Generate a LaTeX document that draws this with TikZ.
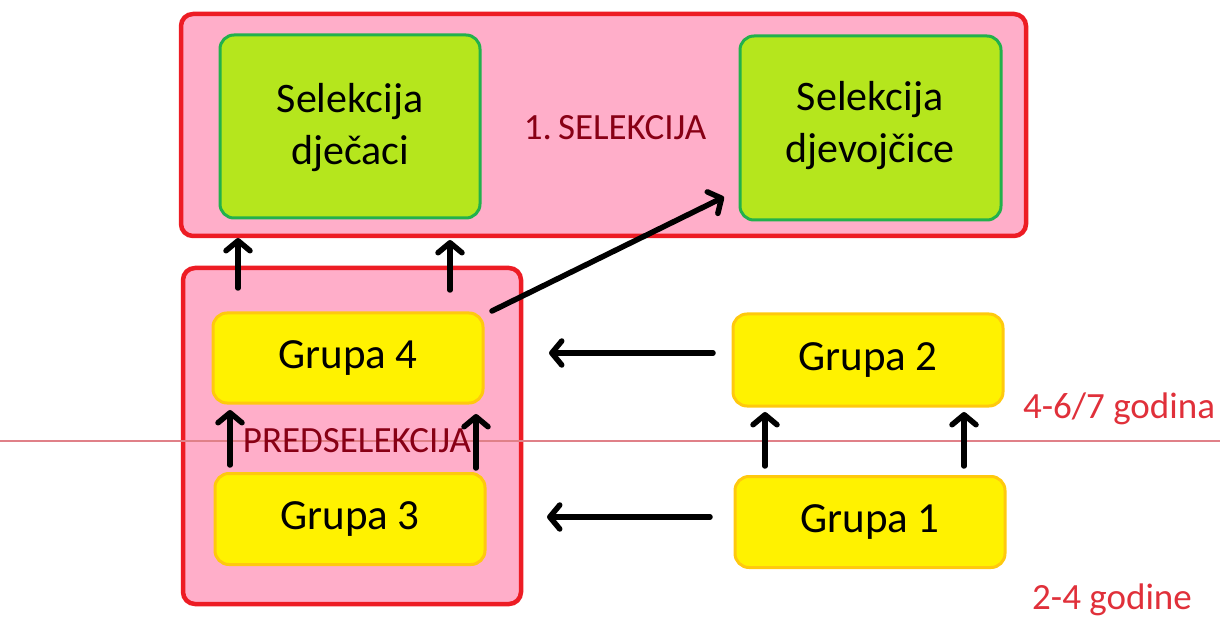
\documentclass[tikz,border=0pt]{standalone}
\usepackage{fontspec}
\setmainfont{Carlito}
\usetikzlibrary{arrows.meta}
\definecolor{pinkfill}{HTML}{FFAEC9}
\definecolor{redline}{HTML}{ED1C24}
\definecolor{greenfill}{HTML}{B5E61D}
\definecolor{greenline}{HTML}{22B14C}
\definecolor{yellowfill}{HTML}{FFF200}
\definecolor{goldline}{HTML}{FFC90E}
\definecolor{darkred}{HTML}{880015}
\definecolor{labelred}{HTML}{E0303A}
\definecolor{sepline}{HTML}{E08088}
\tikzset{
  x=1pt,y=-1pt,
  outerbox/.style={draw=redline,line width=4.5pt,fill=pinkfill,rounded corners=12pt},
  selbox/.style={draw=greenline,line width=3pt,fill=greenfill,rounded corners=14pt},
  seltext/.style={align=center,font=\fontsize{42}{52}\selectfont},
  grpbox/.style={draw=goldline,line width=3pt,fill=yellowfill,rounded corners=14pt,font=\fontsize{43}{50}\selectfont},
  redlabel/.style={font=\fontsize{37}{44}\selectfont},
  arr/.style={line width=5.5pt,-{Straight Barb[length=10pt,width=24pt,line cap=round,line join=round]},line cap=round},
}
\begin{document}
\frenchspacing
\begin{tikzpicture}
\useasboundingbox (0,0) rectangle (1220,617);
% outer boxes
\path[outerbox] (181,14) rectangle (1026,236);
\path[outerbox] (183,268) rectangle (521,604);
% inner nodes
\path[selbox] (220,35) rectangle (480,218);
\node[seltext] (dj) at (350,128) {Selekcija\\dječaci};
\path[selbox] (740,36) rectangle (1001,220);
\node[seltext] (dv) at (870,126) {Selekcija\\djevojčice};
\node[grpbox,minimum width=270pt,minimum height=90pt] (g4) at (348,358) {Grupa 4};
\node[grpbox,minimum width=270pt,minimum height=91pt] (g3) at (350,519) {Grupa 3};
\node[grpbox,minimum width=270pt,minimum height=92pt] (g2) at (868,360) {Grupa 2};
\node[grpbox,minimum width=270pt,minimum height=91pt] (g1) at (870,522) {Grupa 1};
% separator line
\draw[draw=sepline,line width=1.2pt] (0,441) -- (1220,441);
% labels
\node[redlabel,text=darkred] (sel) at (615,128) {1.\,SELEKCIJA};
\node[redlabel,text=darkred] (pre) at (357,441) {PREDSELEKCIJA};
\node[redlabel,text=labelred] (l1) at (1119,409) {4-6/7 godina};
\node[redlabel,text=labelred] (l2) at (1112,600) {2-4 godine};
% coordinates for arrows
\coordinate (a1s) at (238,288); \coordinate (a1e) at (238,238);
\coordinate (a2s) at (450,290); \coordinate (a2e) at (450,240);
\coordinate (a3s) at (492,311); \coordinate (a3e) at (724,197);
\coordinate (a4s) at (713,353); \coordinate (a4e) at (549,353);
\coordinate (a5s) at (710,517); \coordinate (a5e) at (547,517);
\coordinate (a6s) at (230,465); \coordinate (a6e) at (230,410);
\coordinate (a7s) at (476,468); \coordinate (a7e) at (476,414);
\coordinate (a8s) at (765,466); \coordinate (a8e) at (765,412);
\coordinate (a9s) at (964,466); \coordinate (a9e) at (964,412);
\foreach \i in {1,...,9}{\draw[arr] (a\i s) -- (a\i e);}
\end{tikzpicture}
\end{document}
